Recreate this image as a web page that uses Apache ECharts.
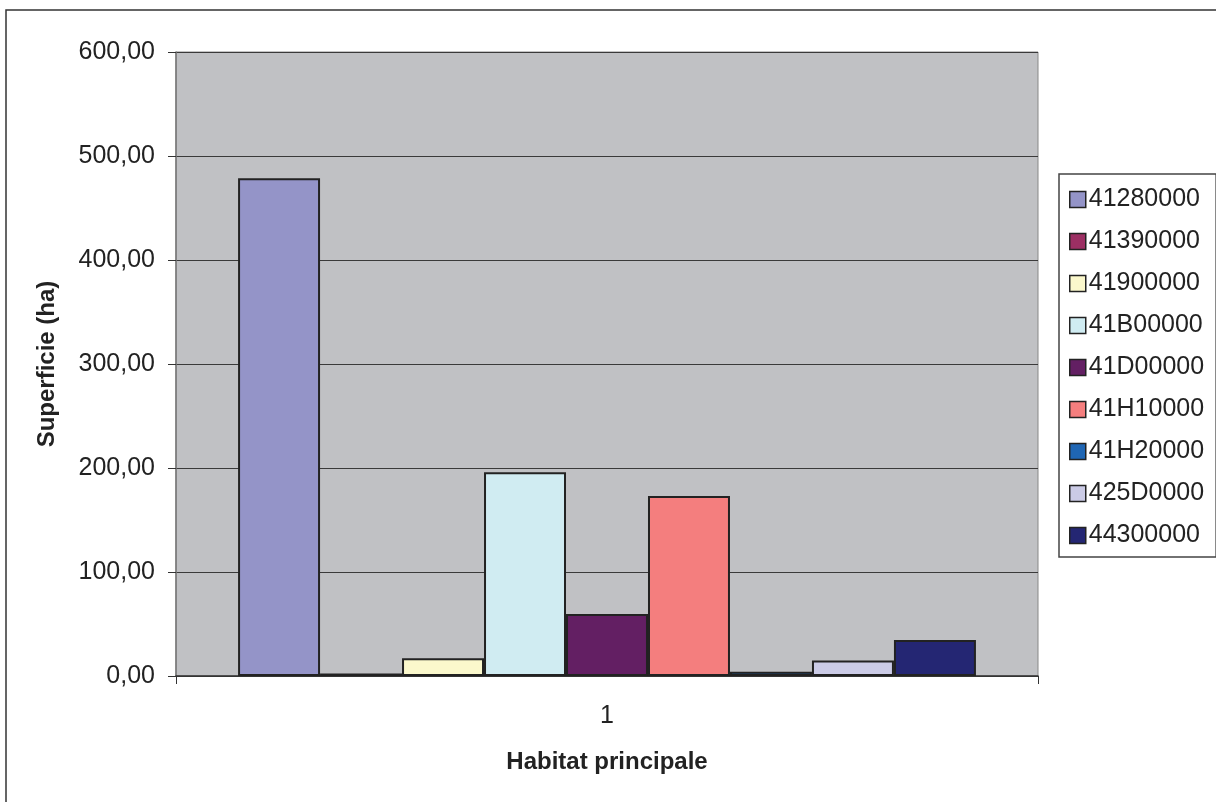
<!DOCTYPE html>
<html>
<head>
<meta charset="utf-8">
<script src="https://cdn.jsdelivr.net/npm/echarts@6/dist/echarts.min.js"></script>
<style>
html,body{margin:0;padding:0;background:#fff;}
#chart{width:1216px;height:802px;}
</style>
</head>
<body>
<div id="chart"></div>
<script>
const categories = ['1'];
const seriesNames = ['41280000','41390000','41900000','41B00000','41D00000','41H10000','41H20000','425D0000','44300000'];
const seriesValues = [478.5, 2.5, 17, 196, 59.5, 173, 4, 15, 34.5];
const seriesColors = ['#9494c8','#9c2f63','#fbf8cc','#d0ecf2','#631f63','#f47e7e','#1f66b4','#cbcbe6','#242673'];
const yTicks = [0, 100, 200, 300, 400, 500, 600];

const chart = echarts.init(document.getElementById('chart'), null, {renderer: 'canvas'});
const font = '"Liberation Sans", Arial, sans-serif';

const series = seriesNames.map((name, i) => ({
  name: name,
  type: 'bar',
  data: [seriesValues[i]],
  barGap: '0%',
  barCategoryGap: '14.4%',
  itemStyle: {color: seriesColors[i], borderColor: '#222', borderWidth: 2},
  emphasis: {disabled: true},
  animation: false
}));

chart.setOption({
  animation: false,
  backgroundColor: '#fff',
  graphic: [{
    type: 'rect',
    shape: {x: 6, y: 10, width: 1400, height: 1000},
    style: {fill: 'none', stroke: '#333', lineWidth: 1.5},
    silent: true,
    z: 100
  }],
  grid: {
    left: 176, right: 178, top: 52, bottom: 126,
    show: true, backgroundColor: '#c0c1c4', borderColor: '#888', borderWidth: 1
  },
  legend: {
    orient: 'vertical',
    left: 1059, top: 174,
    padding: [13, 12, 9, 10],
    itemGap: 17,
    itemWidth: 16, itemHeight: 16,
    icon: 'rect',
    borderColor: '#444', borderWidth: 1.5,
    backgroundColor: '#fff',
    textStyle: {fontFamily: font, fontSize: 25, color: '#222', padding: [0,0,0,-2]},
    itemStyle: {borderColor: '#222', borderWidth: 1.5},
    data: seriesNames
  },
  xAxis: {
    type: 'category',
    data: categories,
    name: 'Habitat principale',
    nameLocation: 'middle',
    nameGap: 74,
    nameTextStyle: {fontFamily: font, fontSize: 24, fontWeight: 'bold', color: '#222'},
    axisLine: {lineStyle: {color: '#333', width: 1.5}},
    axisTick: {show: true, length: 8, lineStyle: {color: '#333'}},
    axisLabel: {fontFamily: font, fontSize: 25, color: '#222', margin: 28}
  },
  yAxis: {
    type: 'value',
    min: 0, max: 600, interval: 100,
    name: 'Superficie (ha)',
    nameLocation: 'middle',
    nameGap: 117,
    nameRotate: 90,
    nameTextStyle: {fontFamily: font, fontSize: 24, fontWeight: 'bold', color: '#222'},
    axisLine: {show: true, lineStyle: {color: '#777', width: 1.5}},
    axisTick: {show: true, length: 8, lineStyle: {color: '#333'}},
    axisLabel: {fontFamily: font, fontSize: 25, color: '#222', margin: 21,
      formatter: v => yTicks.includes(v) ? v.toFixed(2).replace('.', ',') : ''},
    splitLine: {show: true, lineStyle: {color: '#3a3a3a', width: 1}}
  },
  series: series
});
</script>
</body>
</html>
